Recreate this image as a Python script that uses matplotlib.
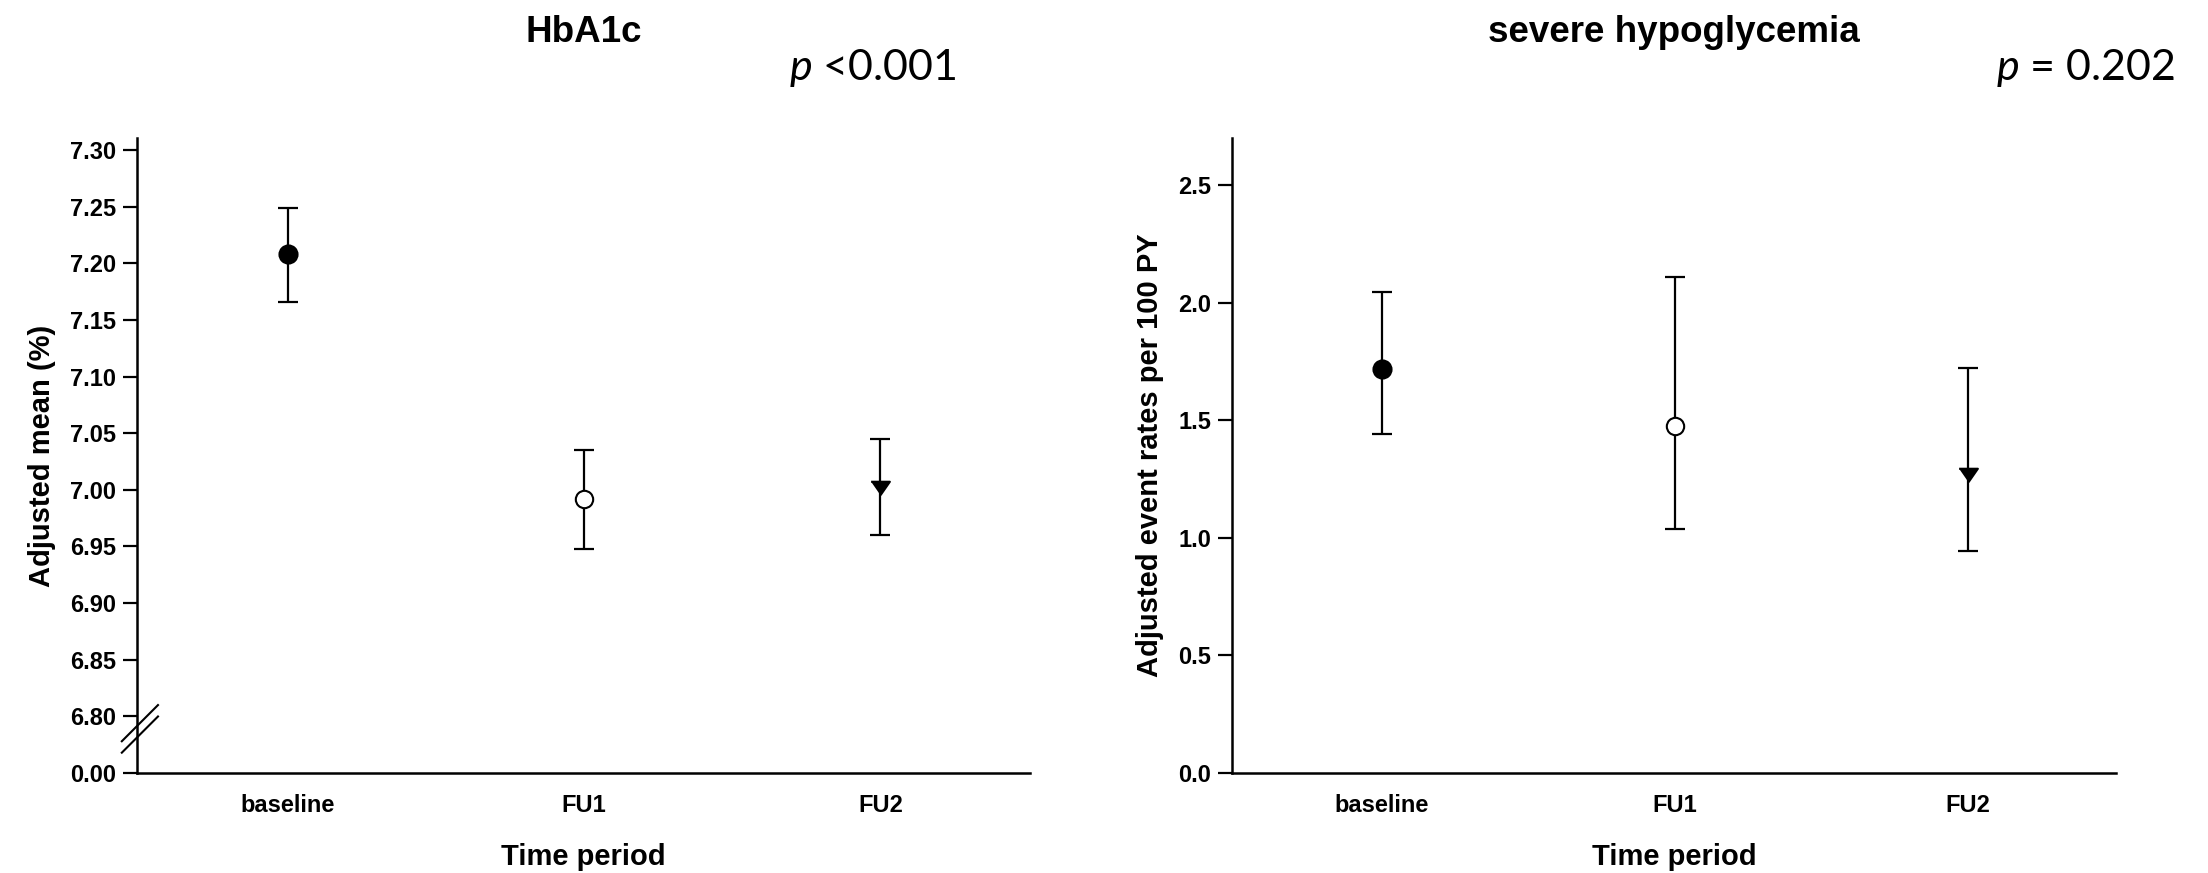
import matplotlib
matplotlib.use("Agg")
import matplotlib.pyplot as plt
import matplotlib.transforms as mtransforms
import numpy as np

plt.rcParams['font.family'] = ['Liberation Sans', 'DejaVu Sans']
plt.rcParams['mathtext.fontset'] = 'custom'
plt.rcParams['mathtext.rm'] = 'Lato'
plt.rcParams['mathtext.it'] = 'Lato:italic'

# ---- data ----
categories = ["baseline", "FU1", "FU2"]

hba1c_mean = [7.208, 6.992, 7.002]
hba1c_lower = [7.166, 6.948, 6.960]
hba1c_upper = [7.249, 7.035, 7.045]

hypo_mean = [1.716, 1.476, 1.267]
hypo_lower = [1.440, 1.036, 0.943]
hypo_upper = [2.047, 2.109, 1.724]

hba1c_ticks = [6.80, 6.85, 6.90, 6.95, 7.00, 7.05, 7.10, 7.15, 7.20, 7.25, 7.30]
hba1c_break_label = "0.00"
hypo_ticks = [0.0, 0.5, 1.0, 1.5, 2.0, 2.5]

titles = ["HbA1c", "severe hypoglycemia"]
pvalues = [r"$p$ <0.001", r"$p$ = 0.202"]
ylabels = ["Adjusted mean (%)", "Adjusted event rates per 100 PY"]
xlabel = "Time period"

W, H = 2208, 873
fig = plt.figure(figsize=(W / 100, H / 100), dpi=100)

def px_rect(x0, x1, ytop, ybot):
    return [x0 / W, 1 - ybot / H, (x1 - x0) / W, (ybot - ytop) / H]

axL = fig.add_axes(px_rect(137, 1030, 138, 773))
axR = fig.add_axes(px_rect(1232, 2116, 138, 773))

markers = ["o", "o", [(-1, 0.72), (1, 0.72), (0, -0.72)]]
faces = ["black", "white", "black"]
msizes = [13, 12.5, 13.5]

TICK_FS = 17
LABEL_FS = 21

def draw(ax, mean, lo, hi):
    x = np.arange(len(categories))
    for i in range(len(categories)):
        ax.errorbar(x[i], mean[i],
                    yerr=[[mean[i] - lo[i]], [hi[i] - mean[i]]],
                    fmt="none", ecolor="black", elinewidth=1.6,
                    capsize=7.2, capthick=1.6, zorder=2)
        ax.plot(x[i], mean[i], linestyle="none", marker=markers[i],
                markersize=msizes[i], markerfacecolor=faces[i],
                markeredgecolor="black", markeredgewidth=1.5, zorder=3)
    ax.set_xticks(x)
    ax.set_xticklabels(categories, fontsize=TICK_FS, fontweight="bold")
    ax.set_xlim(-0.51, 2.505)
    for s in ["top", "right"]:
        ax.spines[s].set_visible(False)
    for s in ["left", "bottom"]:
        ax.spines[s].set_linewidth(1.8)
    ax.tick_params(axis="y", length=10, width=1.6, labelsize=TICK_FS, pad=5)
    ax.tick_params(axis="x", length=0, pad=15)
    for lab in ax.get_yticklabels():
        lab.set_fontweight("bold")
    ax.set_xlabel(xlabel, fontsize=LABEL_FS, fontweight="bold", labelpad=19)

# left panel with axis break
step = hba1c_ticks[1] - hba1c_ticks[0]
break_pos = hba1c_ticks[0] - step
draw(axL, hba1c_mean, hba1c_lower, hba1c_upper)
axL.set_ylim(break_pos, hba1c_ticks[-1] + 0.0106)
axL.set_yticks([break_pos] + hba1c_ticks)
axL.set_yticklabels([hba1c_break_label] + ["%.2f" % t for t in hba1c_ticks],
                    fontsize=TICK_FS, fontweight="bold")
axL.set_ylabel(ylabels[0], fontsize=LABEL_FS, fontweight="bold", labelpad=10)

# break marks
for dy in (0.0, -0.018):
    axL.plot([-0.017, 0.0235], [0.050 + dy, 0.107 + dy], transform=axL.transAxes,
             color="black", lw=1.5, clip_on=False, zorder=5)

# right panel
draw(axR, hypo_mean, hypo_lower, hypo_upper)
axR.set_ylim(0, 2.7)
axR.set_yticks(hypo_ticks)
axR.set_yticklabels(["%.1f" % t for t in hypo_ticks], fontsize=TICK_FS, fontweight="bold")
axR.set_ylabel(ylabels[1], fontsize=LABEL_FS, fontweight="bold", labelpad=10)

# titles centred over each axes
for ax, t in zip([axL, axR], titles):
    tr = mtransforms.blended_transform_factory(ax.transAxes, fig.transFigure)
    ax.text(0.5, 1 - 33 / H, t, transform=tr, fontsize=26.5,
            fontweight="bold", ha="center", va="center")

# p-values
fig.text(957 / W, 1 - 68 / H, pvalues[0], fontsize=31, family="Lato",
         ha="right", va="center")
fig.text(2175 / W, 1 - 68 / H, pvalues[1], fontsize=31, family="Lato",
         ha="right", va="center")

fig.savefig("out.png", dpi=100, facecolor="white")
